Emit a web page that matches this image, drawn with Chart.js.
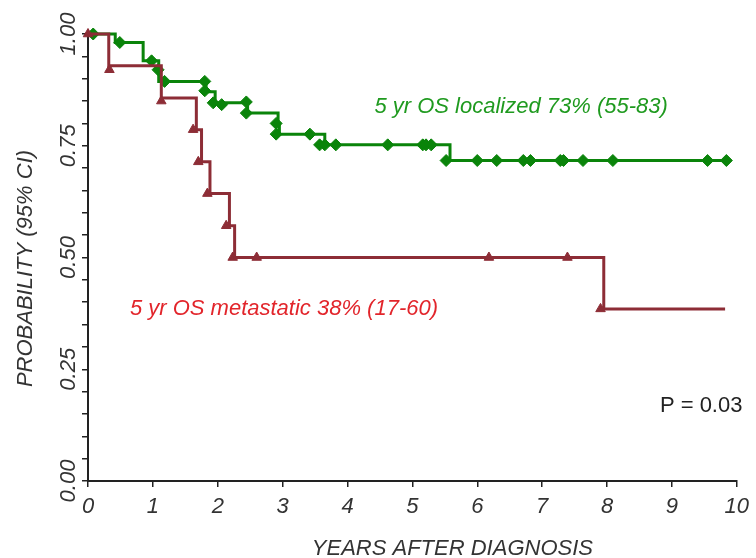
<!DOCTYPE html>
<html>
<head>
<meta charset="utf-8">
<script src="https://cdn.jsdelivr.net/npm/chart.js@4.4.1/dist/chart.umd.min.js"></script>
<style>
html,body{margin:0;padding:0;background:#fff}
#wrap{width:756px;height:558px;position:relative}
</style>
</head>
<body>
<div id="wrap"><canvas id="c" width="756" height="558"></canvas></div>
<script>
// ---- data ----
const xTickLabels = ['0','1','2','3','4','5','6','7','8','9','10'];
const yTickValues = [0, 0.25, 0.5, 0.75, 1];
const yTickLabels = ['0.00','0.25','0.50','0.75','1.00'];

// Localized: Kaplan-Meier step curve
const localizedTimes    = [0, 0.42, 0.85, 1.09, 1.82, 1.96, 2.46, 2.93, 2.95, 3.65, 5.58, 9.88];
const localizedSurvival = [1.0, 0.981, 0.940, 0.894, 0.871, 0.846, 0.823, 0.799, 0.776, 0.752, 0.717, 0.717];
// Localized: diamond markers
const localizedMarkTimes    = [0.08, 0.49, 0.98, 1.08, 1.18, 1.80, 1.80, 1.93, 2.06, 2.44, 2.44, 2.90, 2.90, 3.42,
                               3.57, 3.65, 3.82, 4.62, 5.16, 5.21, 5.29,
                               5.52, 6.00, 6.30, 6.71, 6.82, 7.28, 7.33, 7.63, 8.09, 9.55, 9.84];
const localizedMarkSurvival = [1.0, 0.981, 0.940, 0.920, 0.894, 0.894, 0.873, 0.846, 0.842, 0.848, 0.823, 0.800, 0.776, 0.776,
                               0.752, 0.752, 0.752, 0.752, 0.752, 0.752, 0.752,
                               0.717, 0.717, 0.717, 0.717, 0.717, 0.717, 0.717, 0.717, 0.717, 0.717, 0.717];

// Metastatic: Kaplan-Meier step curve
const metastaticTimes    = [0, 0.32, 1.13, 1.67, 1.75, 1.88, 2.18, 2.26, 7.95, 9.82];
const metastaticSurvival = [1.0, 0.929, 0.857, 0.786, 0.714, 0.643, 0.571, 0.500, 0.385, 0.385];
// Metastatic: triangle markers
const metastaticMarkTimes    = [0, 0.33, 1.13, 1.62, 1.70, 1.84, 2.13, 2.23, 2.60, 6.18, 7.39, 7.90];
const metastaticMarkSurvival = [1.0, 0.920, 0.850, 0.786, 0.714, 0.643, 0.571, 0.500, 0.500, 0.500, 0.500, 0.385];

const annotations = [
  {text: '5 yr OS localized 73% (55-83)', x: 4.415, y: 0.823, color: '#1f9a1f', italic: true},
  {text: '5 yr OS metastatic 38% (17-60)', x: 0.646, y: 0.371, color: '#e2252b', italic: true},
  {text: 'P = 0.03', x: 8.815, y: 0.155, color: '#222222', italic: false}
];
const xTitle = 'YEARS AFTER DIAGNOSIS';
const yTitle = 'PROBABILITY (95% CI)';

// ---- styles ----
const GREEN = '#0a840a';
const RED = '#8d2d36';
const AXIS = '#222';
const TEXT = '#333';
const FONT = '"Liberation Sans", Arial, Helvetica, sans-serif';

const pts = (xs, ys) => xs.map((t, i) => ({x: t, y: ys[i]}));

const textPlugin = {
  id: 'texts',
  afterDraw(chart) {
    const {ctx, chartArea, scales} = chart;
    const xs = scales.x, ys = scales.y;
    ctx.save();
    ctx.fillStyle = TEXT;
    ctx.font = 'italic 22px ' + FONT;
    // rotated y tick labels
    yTickValues.forEach((v, i) => {
      const py = ys.getPixelForValue(v);
      ctx.save();
      ctx.translate(chartArea.left - 13, py);
      ctx.rotate(-Math.PI / 2);
      ctx.textAlign = 'center';
      ctx.textBaseline = 'alphabetic';
      ctx.fillText(yTickLabels[i], 0, 0);
      ctx.restore();
    });
    // y title
    ctx.save();
    ctx.translate(32, (chartArea.top + chartArea.bottom) / 2 + 11);
    ctx.rotate(-Math.PI / 2);
    ctx.textAlign = 'center';
    ctx.textBaseline = 'alphabetic';
    ctx.fillText(yTitle, 0, 0);
    ctx.restore();
    // x title
    ctx.textAlign = 'center';
    ctx.textBaseline = 'alphabetic';
    ctx.fillText(xTitle, (chartArea.left + chartArea.right) / 2 + 40, chartArea.bottom + 74);
    // annotations
    ctx.textAlign = 'left';
    annotations.forEach(a => {
      ctx.font = (a.italic ? 'italic ' : '') + '22px ' + FONT;
      ctx.fillStyle = a.color;
      ctx.fillText(a.text, xs.getPixelForValue(a.x), ys.getPixelForValue(a.y));
    });
    ctx.restore();
  }
};

new Chart(document.getElementById('c'), {
  type: 'scatter',
  data: {
    datasets: [
      {
        label: 'metastatic marks',
        data: pts(metastaticMarkTimes, metastaticMarkSurvival),
        showLine: false,
        pointStyle: 'triangle',
        pointRadius: 5.5,
        backgroundColor: RED,
        borderColor: RED,
        borderWidth: 1,
        clip: false
      },
      {
        label: 'metastatic',
        data: pts(metastaticTimes, metastaticSurvival),
        showLine: true,
        stepped: true,
        pointRadius: 0,
        borderColor: RED,
        borderWidth: 3,
        fill: false,
        clip: false
      },
      {
        label: 'localized marks',
        data: pts(localizedMarkTimes, localizedMarkSurvival),
        showLine: false,
        pointStyle: 'rectRot',
        pointRadius: 6,
        backgroundColor: GREEN,
        borderColor: GREEN,
        borderWidth: 1,
        clip: false
      },
      {
        label: 'localized',
        data: pts(localizedTimes, localizedSurvival),
        showLine: true,
        stepped: true,
        pointRadius: 0,
        borderColor: GREEN,
        borderWidth: 3,
        fill: false,
        clip: false
      }
    ]
  },
  options: {
    responsive: false,
    animation: false,
    layout: {padding: {top: 34, right: 18, bottom: 0, left: 0}},
    plugins: {legend: {display: false}, tooltip: {enabled: false}},
    scales: {
      x: {
        type: 'linear',
        min: 0, max: 10,
        afterFit: s => { s.height = 77; },
        border: {display: true, color: AXIS, width: 2},
        grid: {display: true, drawOnChartArea: false, drawTicks: true, tickLength: 6, color: AXIS, lineWidth: 1.5},
        ticks: {
          stepSize: 1,
          padding: 7,
          color: TEXT,
          font: {family: FONT, size: 22, style: 'italic'},
          callback: (v) => xTickLabels[Math.round(v)] ?? ''
        }
      },
      y: {
        type: 'linear',
        min: 0, max: 1,
        afterFit: s => { s.width = 88; },
        border: {display: true, color: AXIS, width: 2},
        grid: {display: true, drawOnChartArea: false, drawTicks: true, tickLength: 6, color: AXIS, lineWidth: 1.5},
        ticks: {
          stepSize: 0.05,
          padding: 0,
          color: 'rgba(0,0,0,0)',
          font: {family: FONT, size: 10},
          callback: () => ''
        }
      }
    }
  },
  plugins: [textPlugin]
});
</script>
</body>
</html>
